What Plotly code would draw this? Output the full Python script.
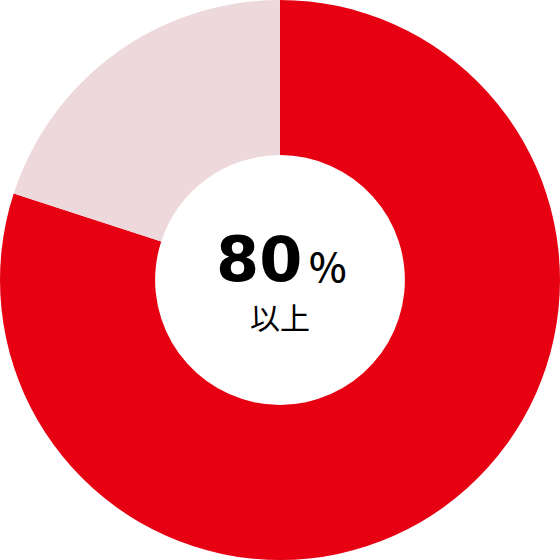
import plotly.graph_objects as go

labels = ["80%以上", "その他"]
values = [80, 20]
colors = ["#E60012", "#EDD8DB"]

fig = go.Figure(go.Pie(
    labels=labels, values=values, hole=0.446, sort=False, direction="clockwise",
    rotation=0, marker=dict(colors=colors, line=dict(width=0)),
    textinfo="none", hoverinfo="none", showlegend=False,
    domain=dict(x=[0, 1], y=[0, 1])
))
fig.add_annotation(x=0.462, y=0.536, xref="paper", yref="paper", text="80", showarrow=False,
                   font=dict(family="DejaVu Sans", size=62, color="#000000", weight=700))
fig.add_annotation(x=0.585, y=0.527, xref="paper", yref="paper", text="%", showarrow=False,
                   font=dict(family="Noto Sans CJK JP", size=40, color="#000000", weight=500))
fig.add_annotation(x=0.5, y=0.436, xref="paper", yref="paper", text="以上", showarrow=False,
                   font=dict(family="Noto Sans CJK JP", size=30, color="#000000"))
fig.update_layout(width=560, height=560, margin=dict(l=0, r=0, t=0, b=0),
                  paper_bgcolor="white", plot_bgcolor="white")
fig.write_html("out.html", config={"displayModeBar": False},
               post_script="document.body.style.margin='0';")
